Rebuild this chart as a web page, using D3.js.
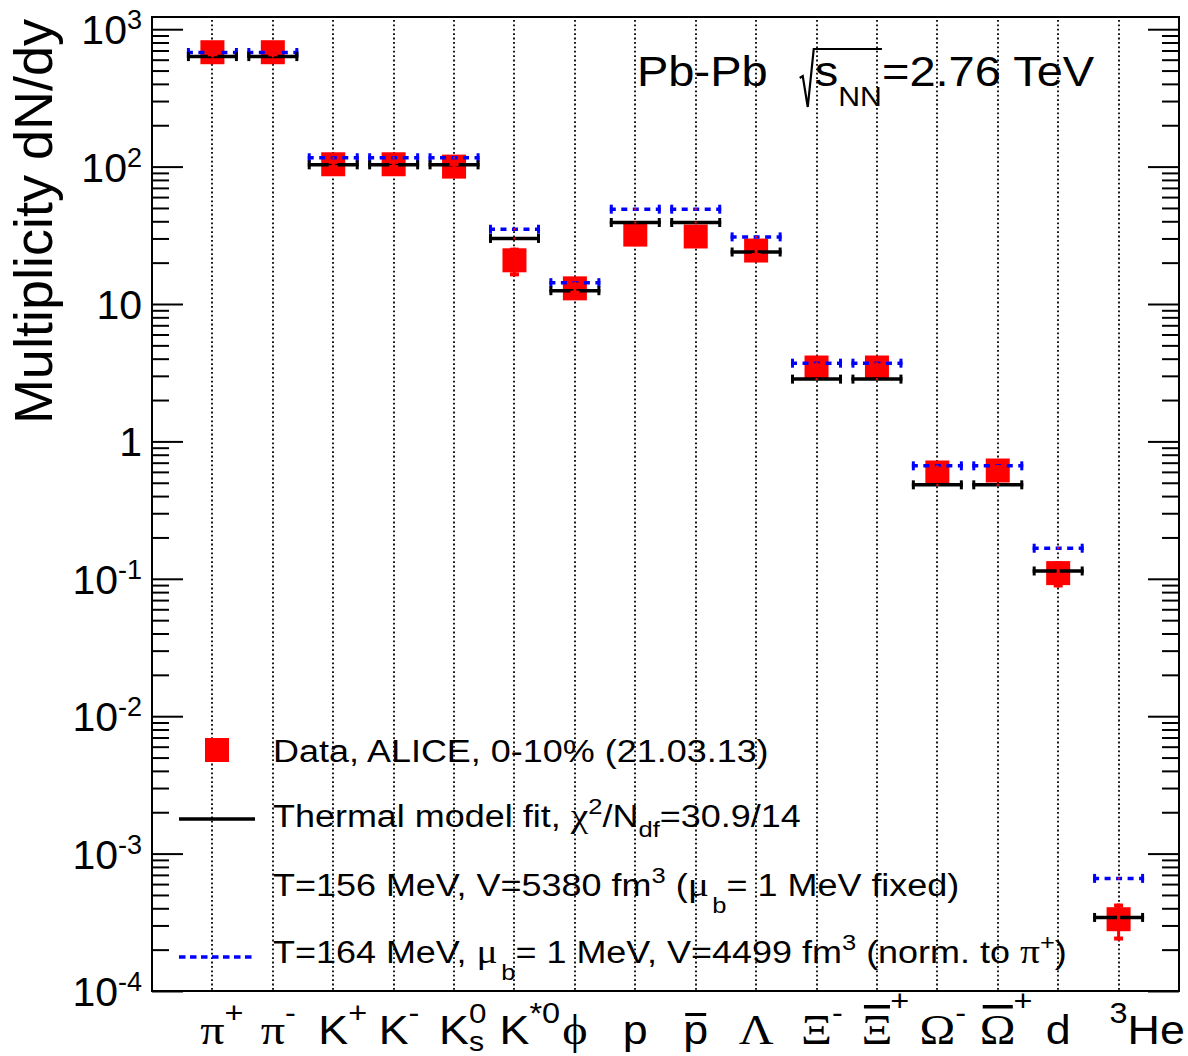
<!DOCTYPE html>
<html><head><meta charset="utf-8">
<script src="https://cdn.jsdelivr.net/npm/d3@7"></script>
<style>body{margin:0;background:#fff}svg{display:block}text{white-space:pre}</style>
</head><body>
<svg id="chart" width="1188" height="1056"></svg>
<script>
// ---------------- data ----------------
const categories = ["pi+","pi-","K+","K-","K0s","K*0","phi","p","pbar","Lambda","Xi-","Xibar+","Omega-","Omegabar+","d","3He"];
const dataValues = [680, 680, 104, 104, 100, 20.8, 13.0, 32, 31, 24.5, 3.45, 3.45, 0.594, 0.614, 0.110, 3.33e-4];
const dataErrors = [45, 45, 8, 8, 8, 4.9, 1.3, 2.5, 2.5, 2.5, 0.25, 0.25, 0.06, 0.06, 0.0235, 1.0e-4];
const thermalFit = [632, 632, 103, 103, 103, 30.0, 12.5, 39.2, 39.2, 23.9, 2.84, 2.84, 0.483, 0.483, 0.114, 3.43e-4];
const thermalAlt = [677, 677, 116, 116, 116, 35.0, 14.3, 49.0, 49.0, 30.8, 3.71, 3.71, 0.664, 0.664, 0.167, 6.6e-4];
const yTickValues = [1e-4, 1e-3, 1e-2, 1e-1, 1, 10, 100, 1000];
const yTickLabels = ["10^-4", "10^-3", "10^-2", "10^-1", "1", "10", "10^2", "10^3"];
// x tick labels: parts [text, kind]; kind: L latin, G greek, sup, sub, supS (stacked sup), Lo/Go overlined
const xTickLabels = [
  [["π","G"],["+","sup"]],
  [["π","G"],["-","sup"]],
  [["K","L"],["+","sup"]],
  [["K","L"],["-","sup"]],
  [["K","L"],["s","sub"],["0","supS"]],
  [["K","L"],["*0","sup"]],
  [["ϕ","G"]],
  [["p","L"]],
  [["p","Lo"]],
  [["Λ","G"]],
  [["Ξ","G"],["-","sup"]],
  [["Ξ","Go"],["+","supO"]],
  [["Ω","G"],["-","sup"]],
  [["Ω","Go"],["+","supO"]],
  [["d","L"]],
  [["3","supA"],["He","L"]]
];
const legendLabels = [
  "Data, ALICE, 0-10% (21.03.13)",
  "Thermal model fit, χ^2/N_df=30.9/14",
  "T=156 MeV, V=5380 fm^3 (μ_b= 1 MeV fixed)",
  "T=164 MeV, μ_b= 1 MeV, V=4499 fm^3 (norm. to π^+)"
];
const titleText = ["Pb-Pb", "s", "NN", "=2.76 TeV"];
const yTitle = "Multiplicity dN/dy";

// ---------------- layout ----------------
const SANS = "Liberation Sans, Arial, Helvetica, sans-serif";
const SERIF = "Liberation Serif, DejaVu Serif, Times New Roman, serif";
const frame = {l:152, t:17, r:1179, b:991};
const svg = d3.select("#chart");
const x = d3.scaleLinear().domain([0, categories.length + 1]).range([frame.l, frame.r]);
const y = d3.scaleLog().domain([1e-4, 1227]).range([frame.b, frame.t]);
const xi = i => x(i + 1);

// rich text helper
function rich(parent, parts, o) {
  const g = parent.append("g");
  const inner = g.append("g");
  let cx = 0, prevStart = 0;
  const info = [];
  parts.forEach(p => {
    const el = inner.append("text").attr("y", p.dy || 0)
      .attr("font-family", p.fam || o.fam).attr("font-size", p.size || o.size)
      .attr("fill", "#000").text(p.t);
    const w = el.node().getComputedTextLength();
    const x0 = p.stack ? prevStart : cx + (p.dx || 0);
    el.attr("x", x0);
    if (p.over) {
      inner.append("rect").attr("x", x0 + w * 0.08).attr("width", w * 0.84)
        .attr("y", p.over[0]).attr("height", p.over[1]).attr("fill", "#000");
    }
    info.push({x0, w});
    if (p.stack) { cx = Math.max(cx, x0 + w); }
    else { prevStart = x0; cx = x0 + w; }
  });
  let off = 0;
  if (o.anchorPart !== undefined) off = info[o.anchorPart].x0 + info[o.anchorPart].w / 2;
  else if (o.anchor === "end") off = cx;
  else if (o.anchor === "middle") off = cx / 2;
  const sx = o.sx || 1;
  const tx = o.x - off * sx;
  g.attr("transform", `translate(${tx},${o.y})`);
  inner.attr("transform", `scale(${sx},1)`);
  return {info, width: cx * sx, abs: lx => tx + lx * sx};
}

// ---------------- grid ----------------
svg.append("g").selectAll("line").data(categories).join("line")
  .attr("x1", (d, i) => Math.round(xi(i))).attr("x2", (d, i) => Math.round(xi(i)))
  .attr("y1", frame.t + 3).attr("y2", frame.b)
  .attr("stroke", "#000").attr("stroke-width", 1.8).attr("stroke-dasharray", "1.8,2.6");

// ---------------- axes ----------------
const minorTicks = [];
for (let k = -4; k <= 3; k++) for (let m = 2; m <= 9; m++) {
  const v = m * Math.pow(10, k); if (v <= 1227) minorTicks.push(v);
}
function axisGroup(axis, tx) {
  const g = svg.append("g").attr("transform", `translate(${tx},0)`).call(axis);
  g.select(".domain").remove();
  g.selectAll("line").attr("stroke", "#000").attr("stroke-width", 2);
  g.selectAll("text").remove();
}
axisGroup(d3.axisRight(y).tickValues(yTickValues).tickSize(31).tickFormat(""), frame.l);
axisGroup(d3.axisRight(y).tickValues(minorTicks).tickSize(17).tickFormat(""), frame.l);
axisGroup(d3.axisLeft(y).tickValues(yTickValues).tickSize(31).tickFormat(""), frame.r);
axisGroup(d3.axisLeft(y).tickValues(minorTicks).tickSize(17).tickFormat(""), frame.r);

// y tick labels
const yl = svg.append("g");
yTickValues.forEach((v, i) => {
  const [base, exp] = yTickLabels[i].split("^");
  const parts = [{t: base}];
  if (exp) parts.push({t: exp, size: 27, dy: -15});
  rich(yl, parts, {fam: SANS, size: 41, x: 142, y: y(v) + 15, anchor: "end"});
});

// frame
svg.append("rect").attr("x", frame.l).attr("y", frame.t)
  .attr("width", frame.r - frame.l).attr("height", frame.b - frame.t)
  .attr("fill", "none").attr("stroke", "#000").attr("stroke-width", 2);

// x tick labels
const xl = svg.append("g");
xTickLabels.forEach((lab, i) => {
  const parts = lab.map(([t, k]) => {
    switch (k) {
      case "L": return {t, fam: SANS, size: 40};
      case "Lo": return {t, fam: SANS, size: 40, over: [-31, 3]};
      case "G": return {t, fam: SERIF, size: 43};
      case "Go": return {t, fam: SERIF, size: 43, over: [-39, 3.5]};
      case "sup": return {t, fam: SANS, size: 29, dy: -21};
      case "supO": return {t, fam: SANS, size: 29, dy: -33, dx: -2};
      case "supS": return {t, fam: SANS, size: 28, dy: -21, stack: true};
      case "sub": return {t, fam: SANS, size: 27, dy: 7};
      case "supA": return {t, fam: SANS, size: 29, dy: -21};
    }
  });
  rich(xl, parts, {fam: SANS, size: 40, x: xi(i), y: 1044, anchorPart: 0, sx: 1.12});
});

// ---------------- marks ----------------
const half = 25.5;
// red squares
svg.append("g").selectAll("rect").data(dataValues).join("rect")
  .attr("x", (d, i) => xi(i) - 12).attr("y", d => y(d) - 12)
  .attr("width", 24).attr("height", 24).attr("fill", "#ff0000");

// model lines
function modelLines(vals, color, dash) {
  const g = svg.append("g");
  g.selectAll("line.h").data(vals).join("line").attr("class", "h")
    .attr("x1", (d, i) => xi(i) - half).attr("x2", (d, i) => xi(i) + half)
    .attr("y1", d => y(d)).attr("y2", d => y(d))
    .attr("stroke", color).attr("stroke-width", 3.5)
    .attr("stroke-dasharray", dash || null);
  [-1, 1].forEach(s => {
    g.selectAll("line.c" + (s > 0 ? "r" : "l")).data(vals).join("line")
      .attr("class", "c" + (s > 0 ? "r" : "l"))
      .attr("x1", (d, i) => xi(i) + s * (half - 1.5)).attr("x2", (d, i) => xi(i) + s * (half - 1.5))
      .attr("y1", d => y(d) - 4.5).attr("y2", d => y(d) + 4.5)
      .attr("stroke", color).attr("stroke-width", 3);
  });
  g.selectAll("rect").data(vals).join("rect")
    .attr("x", (d, i) => xi(i) - 1).attr("y", d => y(d) - 1)
    .attr("width", 2).attr("height", 2).attr("fill", "#ff0000");
}
modelLines(thermalAlt, "#0000ff", "6,5.5");
modelLines(thermalFit, "#000000");

// error bars
const eb = svg.append("g");
eb.selectAll("line").data(dataValues).join("line")
  .attr("x1", (d, i) => xi(i)).attr("x2", (d, i) => xi(i))
  .attr("y1", (d, i) => y(d - dataErrors[i])).attr("y2", (d, i) => y(d + dataErrors[i]))
  .attr("stroke", "#ff0000").attr("stroke-width", 3);
eb.selectAll("rect.lo").data(dataValues).join("rect").attr("class", "lo")
  .attr("x", (d, i) => xi(i) - 4.5).attr("y", (d, i) => y(d - dataErrors[i]) - 4)
  .attr("width", 9).attr("height", 4).attr("fill", "#ff0000");
eb.selectAll("rect.hi").data(dataValues).join("rect").attr("class", "hi")
  .attr("x", (d, i) => xi(i) - 4.5).attr("y", (d, i) => y(d + dataErrors[i]))
  .attr("width", 9).attr("height", 4).attr("fill", "#ff0000");

// ---------------- legend ----------------
const lg = svg.append("g");
const legX = 217, legTextX = 273;
const legBase = [762, 827, 896, 963];
lg.append("rect").attr("x", legX - 12).attr("y", 750 - 12).attr("width", 24).attr("height", 24).attr("fill", "#ff0000");
lg.append("line").attr("x1", 179).attr("x2", 255).attr("y1", 819).attr("y2", 819)
  .attr("stroke", "#000").attr("stroke-width", 3.5);
lg.append("line").attr("x1", 179).attr("x2", 255).attr("y1", 957).attr("y2", 957)
  .attr("stroke", "#0000ff").attr("stroke-width", 3.5).attr("stroke-dasharray", "6.5,4.5");

function parseLegend(s) {
  const parts = [];
  let buf = "";
  const flush = () => { if (buf) { parts.push({t: buf}); buf = ""; } };
  for (let k = 0; k < s.length; k++) {
    const c = s[k];
    if (c === "^" || c === "_") {
      flush();
      let j = k + 1, t = "";
      while (j < s.length && /[0-9a-z+]/.test(s[j])) { t += s[j]; j++; }
      if (c === "^") parts.push({t, size: 22, dy: -13});
      else parts.push({t, size: 22, dy: t === "b" ? 17 : 10, dx: t === "b" ? 3 : 0});
      k = j - 1;
    } else if ("χμπ".includes(c)) {
      flush(); parts.push({t: c, fam: SERIF, size: 34});
    } else buf += c;
  }
  flush();
  return parts;
}
legendLabels.forEach((s, i) => {
  rich(lg, parseLegend(s), {fam: SANS, size: 31, x: legTextX, y: legBase[i], anchor: "start", sx: 1.16});
});

// ---------------- title ----------------
const tg = svg.append("g");
const t1 = rich(tg, [{t: titleText[0]}], {fam: SANS, size: 42, x: 637, y: 86, anchor: "start", sx: 1.12});
const radX = t1.abs(t1.info[0].w) + 32;
const t2 = rich(tg, [{t: titleText[1]}, {t: titleText[2], size: 27, dy: 20}, {t: titleText[3]}],
  {fam: SANS, size: 42, x: radX + 15, y: 86, anchor: "start", sx: 1.12});
const nnEnd = t2.abs(t2.info[1].x0 + t2.info[1].w);
tg.append("path")
  .attr("d", `M${radX},78 L${radX + 3},76 L${radX + 8},107 L${radX + 14},49 L${nnEnd},49`)
  .attr("fill", "none").attr("stroke", "#000").attr("stroke-width", 2.2).attr("stroke-linejoin", "miter");

// ---------------- y title ----------------
svg.append("text").attr("transform", "translate(52,19) rotate(-90)")
  .attr("text-anchor", "end").attr("font-family", SANS).attr("font-size", 54)
  .attr("fill", "#000").text(yTitle);
</script>
</body></html>
